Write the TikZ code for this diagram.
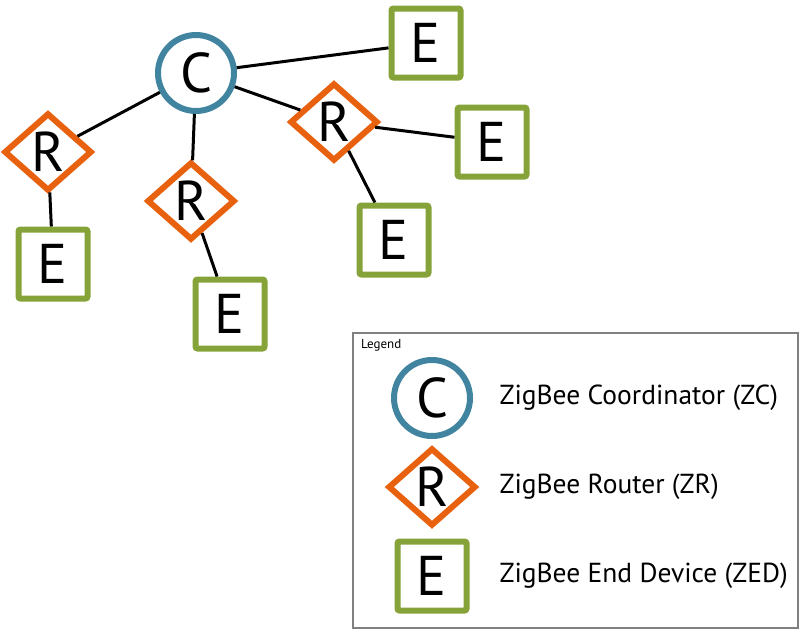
\documentclass[tikz,border=0pt]{standalone}
\usepackage{fontspec}
\setmainfont{PT Sans}
\usetikzlibrary{shapes.geometric}
\definecolor{zcblue}{RGB}{65,132,159}
\definecolor{zrorange}{RGB}{232,97,15}
\definecolor{zedgreen}{RGB}{134,163,58}
\tikzset{
	coord/.style={circle, draw=zcblue, line width=6pt, fill=white, minimum size=76pt, inner sep=0pt, font=\fontsize{56}{56}\selectfont},
	router/.style={diamond, draw=zrorange, line width=6pt, fill=white, minimum width=88pt, minimum height=78pt, inner sep=0pt, font=\fontsize{56}{56}\selectfont},
	enddev/.style={rectangle, draw=zedgreen, line width=6pt, rounded corners=2pt, fill=white, minimum size=69pt, inner sep=0pt, font=\fontsize{56}{56}\selectfont},
	link/.style={line width=3pt, black},
	legtext/.style={anchor=west, font=\fontsize{27.5}{27.5}\selectfont}
}
\begin{document}
\begin{tikzpicture}[x=1pt, y=-1pt]
	\useasboundingbox (0,0) rectangle (800,635);
	% network
	\node [coord] (zc) at (196,73) {C};
	\node [router] (zr1) at (48,152) {R};
	\node [router] (zr2) at (191,201) {R};
	\node [router] (zr3) at (334,122) {R};
	\node [enddev] (zed1) at (426,43) {E};
	\node [enddev] (zed2) at (492,142) {E};
	\node [enddev] (zed3) at (394,240) {E};
	\node [enddev] (zed4) at (53,264) {E};
	\node [enddev] (zed5) at (230,314) {E};
	\draw [link] (zc) -- (zed1);
	\draw [link] (zc) -- (zr1);
	\draw [link] (zc) -- (zr2);
	\draw [link] (zc) -- (zr3);
	\draw [link] (zr1) -- (zed4);
	\draw [link] (zr2) -- (zed5);
	\draw [link] (zr3) -- (zed2);
	\draw [link] (zr3) -- (zed3);
	% legend
	\node [draw=gray, line width=1.2pt, minimum width=445pt, minimum height=295pt, inner sep=0pt] (legbox) at (575.5,480.5) {};
	\node [anchor=north west, inner sep=0pt, font=\fontsize{13}{13}\selectfont] (legtitle) at (361,339) {Legend};
	\node [coord] (lzc) at (432,398) {C};
	\node [router] (lzr) at (432,487) {R};
	\node [enddev] (lzed) at (432,576) {E};
	\node [legtext] (tzc) at (496,398) {ZigBee Coordinator (ZC)};
	\node [legtext] (tzr) at (496,487) {ZigBee Router (ZR)};
	\node [legtext] (tzed) at (496,576) {ZigBee End Device (ZED)};
\end{tikzpicture}
\end{document}
